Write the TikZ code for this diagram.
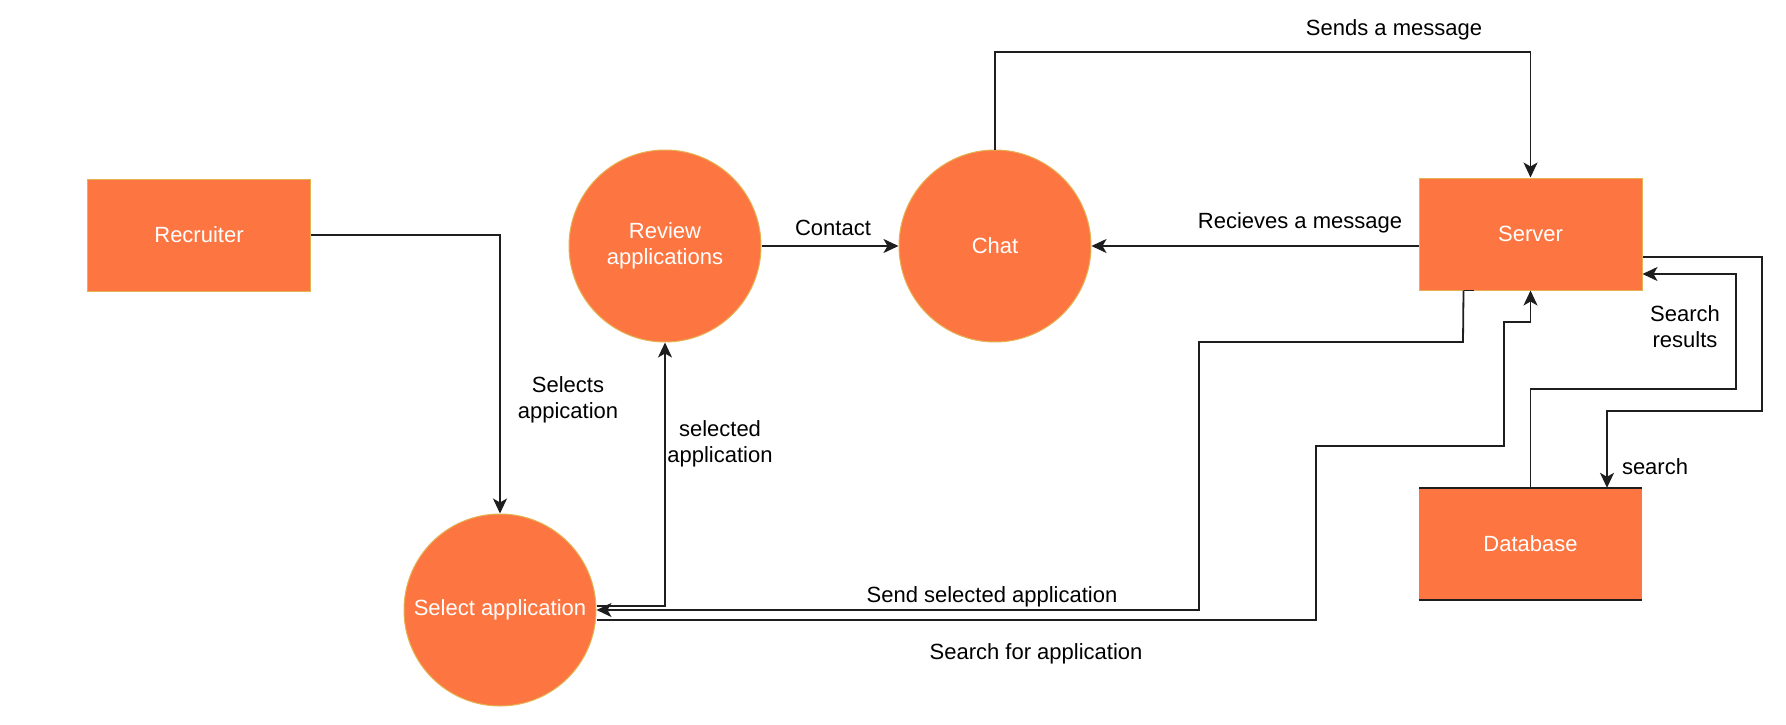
\documentclass[tikz,border=0pt]{standalone}
\usepackage{fontspec}
\setmainfont{Liberation Sans}
\usetikzlibrary{arrows.meta}
\definecolor{orfill}{RGB}{253,118,66}
\definecolor{orline}{RGB}{228,178,80}
\definecolor{lnclr}{RGB}{30,30,30}
\newcommand\lblfont{\fontsize{22}{26}\selectfont}
\begin{document}
\begin{tikzpicture}[x=1pt,y=-1pt,
  proc/.style={circle, fill=orfill, draw=orline, line width=1pt, minimum size=192pt, inner sep=0pt, text=white, align=center, font=\lblfont},
  ent/.style={rectangle, fill=orfill, draw=orline, line width=1pt, minimum width=223pt, minimum height=112pt, inner sep=0pt, text=white, font=\lblfont},
  store/.style={rectangle, fill=orfill, minimum width=223pt, minimum height=112pt, inner sep=0pt, text=white, font=\lblfont},
  lbl/.style={text=black, align=center, font=\lblfont, inner sep=0pt},
  flow/.style={draw=lnclr, line width=1.8pt, -{Stealth[length=15pt,width=14pt,inset=4pt]}},
  plain/.style={draw=lnclr, line width=1.8pt}]
\useasboundingbox (0,0) rectangle (1786,725);
\fill[white] (0,0) rectangle (1786,725);

% nodes
\node[ent] (rec) at (199,235) {Recruiter};
\node[proc] (sel) at (500,610) {Select application};
\node[proc] (rev) at (665,246) {Review\\applications};
\node[proc] (chat) at (995,246) {Chat};
\node[ent] (srv) at (1530.5,234) {Server};
\node[store] (db) at (1530.5,544) {Database};
\draw[lnclr, line width=2pt] (db.north west) -- (db.north east);
\draw[lnclr, line width=2pt] (db.south west) -- (db.south east);

% waypoints
\coordinate (w1) at (501,236);
\coordinate (s1) at (1463,342);
\coordinate (s2) at (1199,342);
\coordinate (s3) at (1199,610);
\coordinate (f1) at (1316,620);
\coordinate (f2) at (1316,446);
\coordinate (f3) at (1504,446);
\coordinate (f4) at (1504,322);
\coordinate (f5) at (1530.5,322);
\coordinate (m1) at (995,52);
\coordinate (m2) at (1530.5,52);
\coordinate (q1) at (1762,257);
\coordinate (q2) at (1762,411);
\coordinate (q3) at (1607,411);
\coordinate (r1) at (1530.5,389);
\coordinate (r2) at (1736,389);
\coordinate (r3) at (1736,274);

% connectors
\draw[flow] (rec.east) -| (sel.north);
\draw[flow] ([yshift=4pt]sel.east) -| (rev.south);
\draw[flow] (rev.east) -- (chat.west);
\draw[flow] (chat.north) -- (m1) -- (m2) -- (srv.north);
\draw[flow] ([yshift=-12pt]srv.west) -- (chat.east);
\draw[plain] ([xshift=-57pt]srv.south) -- ([xshift=-67pt]srv.south);
\draw[flow] ([xshift=-67pt]srv.south) -- (s1) -- (s2) -- (s3) -- (sel.east);
\draw[flow] ([yshift=-10pt]sel.east) -- (f1) -- (f2) -- (f3) -- (f4) -- (f5) -- (srv.south);
\draw[flow] ([yshift=-23pt]srv.east) -- (q1) -- (q2) -- (q3) -- ([xshift=76.5pt]db.north);
\draw[flow] (db.north) -- (r1) -- (r2) -- (r3) -- ([yshift=-40pt]srv.east);

% labels
\node[lbl] (l1) at (568,400) {Selects\\appication};
\node[lbl] (l2) at (720,444) {selected\\application};
\node[lbl] (l3) at (833,228) {Contact};
\node[lbl] (l4) at (1394,30) {Sends a message};
\node[lbl] (l5) at (1300,223) {Recieves a message};
\node[lbl] (l6) at (992,597) {Send selected application};
\node[lbl] (l7) at (1036,654) {Search for application};
\node[lbl] (l8) at (1685,327) {Search\\results};
\node[lbl] (l9) at (1655,467) {search};
\end{tikzpicture}
\end{document}
